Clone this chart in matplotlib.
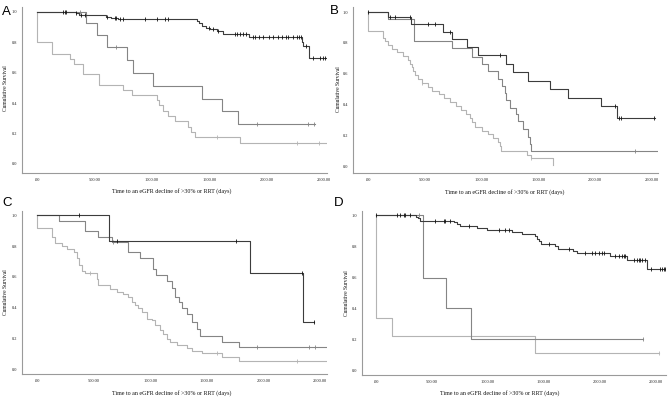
import matplotlib
matplotlib.use("Agg")
import matplotlib.pyplot as plt
import numpy as np

plt.rcParams['font.family'] = ['Liberation Serif', 'DejaVu Serif']

# ---- data (days, cumulative survival) ----
# Panel A
a_dark_t = [0, 337, 366, 605, 648, 706, 1390, 1410, 1433, 1471, 1506, 1564, 1622, 1849, 2305, 2320, 2372]
a_dark_s = [1.0, 0.99, 0.978, 0.97, 0.963, 0.952, 0.94, 0.925, 0.91, 0.895, 0.888, 0.873, 0.857, 0.835, 0.80, 0.776, 0.70]
a_dark_end = 2523
a_dark_cens = [227, 241, 256, 343, 387, 416, 610, 677, 692, 727, 750, 939, 1041, 1113, 1142,
               1500, 1535, 1578, 1724, 1744, 1767, 1797, 1820, 1878, 1898, 1936, 1971, 2023,
               2058, 2102, 2131, 2169, 2189, 2233, 2267, 2279, 2300, 2340, 2407, 2465, 2488, 2509]
a_mid_t = [0, 424, 526, 610, 785, 837, 1012, 1433, 1608, 1753]
a_mid_s = [1.0, 0.925, 0.85, 0.77, 0.685, 0.60, 0.515, 0.43, 0.345, 0.26]
a_mid_end = 2422
a_mid_cens = [372, 692, 1913, 2363, 2413]
a_light_t = [0, 0, 131, 291, 320, 401, 538, 750, 823, 1041, 1064, 1093, 1142, 1201, 1317, 1337, 1375, 1767]
a_light_s = [1.0, 0.80, 0.725, 0.69, 0.655, 0.59, 0.52, 0.485, 0.455, 0.42, 0.385, 0.35, 0.315, 0.28,
             0.245, 0.21, 0.175, 0.135]
a_light_end = 2523
a_light_cens = [1564, 2262, 2459]

# Panel B
b_dark_t = [0, 176, 376, 662, 735, 868, 971, 1212, 1279, 1406, 1603, 1759, 2059, 2200]
b_dark_s = [1.0, 0.965, 0.92, 0.872, 0.823, 0.77, 0.72, 0.662, 0.613, 0.554, 0.498, 0.44, 0.39, 0.31]
b_dark_end = 2535
b_dark_cens = [0, 191, 235, 368, 523, 588, 720, 1162, 2176, 2212, 2229, 2523]
b_mid_t = [0, 176, 406, 735, 912, 1000, 1053, 1147, 1182, 1206, 1220, 1250, 1303, 1323, 1368, 1406, 1426, 1441]
b_mid_s = [1.0, 0.957, 0.81, 0.764, 0.71, 0.662, 0.615, 0.565, 0.52, 0.475, 0.43, 0.38, 0.335, 0.29,
           0.24, 0.19, 0.14, 0.095]
b_mid_end = 2553
b_mid_cens = [2353]
b_light_t = [0, 0, 132, 147, 171, 206, 250, 309, 347, 368, 382, 397, 412, 435, 471, 529, 559, 624, 671,
             721, 771, 818, 859, 897, 918, 941, 1000, 1059, 1103, 1147, 1162, 1176, 1397, 1441, 1632]
b_light_s = [1.0, 0.88, 0.83, 0.81, 0.785, 0.76, 0.74, 0.715, 0.69, 0.665, 0.64, 0.615, 0.59, 0.565,
             0.54, 0.515, 0.49, 0.465, 0.44, 0.415, 0.39, 0.365, 0.34, 0.31, 0.285, 0.255, 0.23, 0.205,
             0.18, 0.155, 0.13, 0.10, 0.075, 0.05, 0.005]
b_light_end = 1632
b_light_cens = [476, 1441]

# Panel C
c_dark_t = [0, 634, 1875, 2347]
c_dark_s = [1.0, 0.833, 0.625, 0.31]
c_dark_end = 2447
c_dark_cens = [369, 708, 1757, 2335, 2447]
c_mid_t = [0, 195, 422, 540, 657, 805, 908, 1026, 1049, 1144, 1188, 1217, 1253, 1276, 1321, 1365, 1409,
           1433, 1630, 1778]
c_mid_s = [1.0, 0.965, 0.898, 0.861, 0.829, 0.76, 0.72, 0.65, 0.615, 0.575, 0.53, 0.47, 0.44, 0.40,
           0.36, 0.31, 0.26, 0.216, 0.18, 0.145]
c_mid_end = 2559
c_mid_cens = [672, 1940, 2397, 2456]
c_light_t = [0, 0, 127, 156, 215, 259, 324, 348, 371, 392, 422, 525, 540, 643, 702, 761, 805, 834, 864,
             893, 923, 967, 1011, 1041, 1085, 1114, 1144, 1173, 1232, 1321, 1365, 1453, 1630, 1786]
c_light_s = [1.0, 0.918, 0.86, 0.82, 0.80, 0.78, 0.76, 0.72, 0.68, 0.64, 0.623, 0.585, 0.545, 0.52,
             0.50, 0.49, 0.47, 0.44, 0.42, 0.40, 0.37, 0.33, 0.32, 0.29, 0.255, 0.23, 0.20, 0.175,
             0.16, 0.14, 0.12, 0.105, 0.08, 0.056]
c_light_end = 2559
c_light_cens = [466, 1586, 2294]

# Panel D
d_dark_t = [0, 357, 375, 396, 693, 723, 753, 902, 991, 1214, 1304, 1423, 1437, 1452, 1476, 1601, 1625,
            1756, 1794, 2092, 2241, 2420]
d_dark_s = [1.0, 0.99, 0.98, 0.965, 0.955, 0.945, 0.93, 0.92, 0.905, 0.895, 0.88, 0.865, 0.85, 0.835,
            0.815, 0.80, 0.785, 0.77, 0.757, 0.735, 0.71, 0.65]
d_dark_end = 2583
d_dark_cens = [0, 187, 217, 247, 262, 307, 530, 604, 619, 664, 827, 1095, 1155, 1184, 1542, 1720,
               1869, 1928, 1958, 1988, 2018, 2033, 2137, 2166, 2196, 2211, 2226, 2300, 2330, 2345,
               2360, 2375, 2405, 2458, 2538, 2553, 2568, 2583]
d_mid_t = [0, 417, 628, 851]
d_mid_s = [1.0, 0.597, 0.40, 0.198]
d_mid_end = 2381
d_mid_cens = [381, 2381]
d_light_t = [0, 0, 143, 1417]
d_light_s = [1.0, 0.334, 0.22, 0.112]
d_light_end = 2524
d_light_cens = [2524]

x_ticks = [0, 500, 1000, 1500, 2000, 2500]
x_ticklabels = ['.00', '500.00', '1000.00', '1500.00', '2000.00', '2500.00']
y_ticks = [0, 0.2, 0.4, 0.6, 0.8, 1.0]
y_ticklabels = ['0.0', '0.2', '0.4', '0.6', '0.8', '1.0']

colors = {'dark': '#3c3c3c', 'mid': '#858585', 'light': '#b4b4b4'}

W, H = 670, 401
fig = plt.figure(figsize=(W / 100, H / 100), dpi=100)


def px_axes(l, r, top, bot):
    return fig.add_axes([l / W, 1 - bot / H, (r - l) / W, (bot - top) / H])


def km(ax, t, s, end, cens, color, mcolor):
    ax.step(list(t) + [end], list(s) + [s[-1]], where='post', color=color, lw=0.8)
    t_arr = np.array(t)
    cy = [s[np.searchsorted(t_arr, c, side='right') - 1] for c in cens]
    ax.plot(cens, cy, ls='none', marker='|', ms=2.6, mew=0.6, color=mcolor)


def style(ax, xlim, ylim):
    ax.set_xlim(*xlim)
    ax.set_ylim(*ylim)
    for sp in ['top', 'right']:
        ax.spines[sp].set_visible(False)
    for sp in ['left', 'bottom']:
        ax.spines[sp].set_color('#9a9a9a')
        ax.spines[sp].set_linewidth(0.8)
    ax.set_xticks(x_ticks)
    ax.set_xticklabels(x_ticklabels)
    ax.set_yticks(y_ticks)
    ax.set_yticklabels(y_ticklabels)
    ax.tick_params(length=0, labelsize=3.2, pad=3.5, colors='#222222')


panels = [
    ('A', (22, 327, 7.4, 173), (-131, 2526), (-0.06, 1.03),
     [(a_dark_t, a_dark_s, a_dark_end, a_dark_cens, 'dark'),
      (a_mid_t, a_mid_s, a_mid_end, a_mid_cens, 'mid'),
      (a_light_t, a_light_s, a_light_end, a_light_cens, 'light')]),
    ('B', (353, 658, 7.4, 173.3), (-135, 2558), (-0.047, 1.03),
     [(b_dark_t, b_dark_s, b_dark_end, b_dark_cens, 'dark'),
      (b_mid_t, b_mid_s, b_mid_end, b_mid_cens, 'mid'),
      (b_light_t, b_light_s, b_light_end, b_light_cens, 'light')]),
    ('C', (22, 327, 210.7, 374.3), (-135, 2559), (-0.032, 1.03),
     [(c_dark_t, c_dark_s, c_dark_end, c_dark_cens, 'dark'),
      (c_mid_t, c_mid_s, c_mid_end, c_mid_cens, 'mid'),
      (c_light_t, c_light_s, c_light_end, c_light_cens, 'light')]),
    ('D', (362, 666, 210.7, 375), (-125, 2589), (-0.032, 1.03),
     [(d_dark_t, d_dark_s, d_dark_end, d_dark_cens, 'dark'),
      (d_mid_t, d_mid_s, d_mid_end, d_mid_cens, 'mid'),
      (d_light_t, d_light_s, d_light_end, d_light_cens, 'light')]),
]

letter_pos = {'A': (2, 15), 'B': (330, 14), 'C': (2, 206), 'D': (334, 206)}
xlabel_pos = {'A': (172, 191), 'B': (505, 192), 'C': (172, 393), 'D': (500, 393)}
ylabel_x = {'A': 6, 'B': 338, 'C': 6, 'D': 346}

for letter, box, xlim, ylim, series in panels:
    ax = px_axes(*box)
    style(ax, xlim, ylim)
    # light first so darker curves sit on top
    for t, s, end, cens, key in reversed(series):
        mcol = '#111111' if key == 'dark' else colors[key]
        km(ax, t, s, end, cens, colors[key], mcol)
    lx, ly = letter_pos[letter]
    fig.text(lx / W, 1 - ly / H, letter, fontsize=9.5, family=['Liberation Sans', 'DejaVu Sans'],
             ha='left', va='baseline')
    xx, xy = xlabel_pos[letter]
    fig.text(xx / W, 1 - xy / H, 'Time to an eGFR decline of >30% or RRT (days)', fontsize=4.3,
             ha='center', va='center', color='#111111')
    # y label centred on the 0..1 range
    y0 = ax.transData.transform((0, 0))[1]
    y1 = ax.transData.transform((0, 1))[1]
    fig.text(ylabel_x[letter] / W, (y0 + y1) / 2 / (H), 'Cumulative Survival', fontsize=4.0,
             rotation=90, ha='center', va='center', color='#111111')

fig.savefig('out.png', dpi=100)
